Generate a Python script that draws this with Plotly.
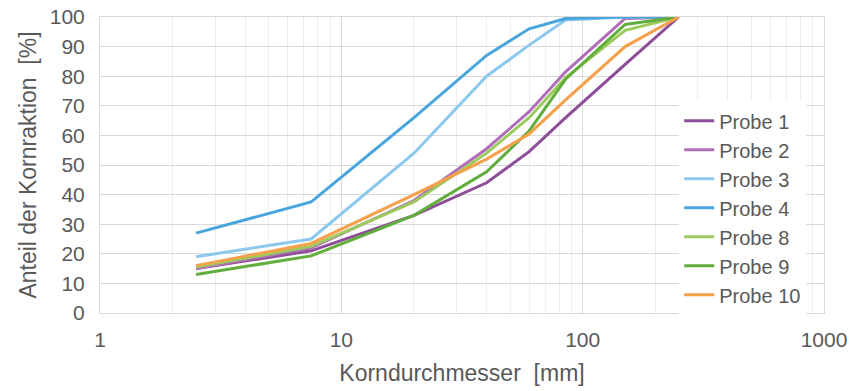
import plotly.graph_objects as go

# Sieve sizes (mm) and passing percentages per sample
diameters = [2.5, 7.5, 20, 40, 60, 85, 150, 250]

probe_1 = [15, 21, 33, 44, 54.5, 66, 84, 100]
probe_2 = [15, 22, 38, 55.5, 68, 81.5, 99.5, 100]
probe_3 = [19, 25, 54, 80, 90.5, 99, 100, 100]
probe_4 = [27, 37.5, 66, 87, 96, 99.5, 100, 100]
probe_8 = [15.5, 22.5, 37.5, 54, 66, 79.5, 95.5, 100]
probe_9 = [13, 19.3, 33, 47.7, 61.5, 79, 97.5, 100]
probe_10 = [16, 23.5, 40, 52, 60.5, 72, 90, 100]

series_names = ["Probe 1", "Probe 2", "Probe 3", "Probe 4", "Probe 8", "Probe 9", "Probe 10"]
series_values = [probe_1, probe_2, probe_3, probe_4, probe_8, probe_9, probe_10]
series_colors = ["#8E4D98", "#B06DB8", "#8CC8EE", "#49A5DD", "#9BCB5C", "#62AE3D", "#F5A04A"]

x_tick_values = [1, 10, 100, 1000]
x_tick_labels = ["1", "10", "100", "1000"]

text_color = "#595959"
font_family = "Liberation Sans, Arial, sans-serif"

fig = go.Figure()
for name, values, color in zip(series_names, series_values, series_colors):
    fig.add_trace(go.Scatter(
        x=diameters, y=values, name=name, mode="lines",
        line=dict(color=color, width=3),
    ))

fig.update_layout(
    width=853, height=391,
    margin=dict(l=100, r=29, t=17, b=78),
    paper_bgcolor="white", plot_bgcolor="white",
    font=dict(family=font_family, color=text_color, size=20),
    legend=dict(
        x=0.80, y=0.715, xanchor="left", yanchor="top",
        bgcolor="white", borderwidth=0,
        font=dict(size=20, color=text_color),
        tracegroupgap=0,
    ),
)

fig.update_xaxes(
    type="log", range=[0, 3], automargin=False,
    tickvals=x_tick_values, ticktext=x_tick_labels,
    showgrid=True, gridcolor="#D9D9D9", gridwidth=1,
    minor=dict(dtick="D1", showgrid=True, gridcolor="#EEEEEE", gridwidth=1),
    showline=True, linecolor="#D9D9D9", linewidth=1, mirror=True,
    ticks="", ticklabelstandoff=8,
    tickfont=dict(size=21, color=text_color),
    title=dict(text="Korndurchmesser \u00a0[mm]", font=dict(size=23, color=text_color), standoff=14),
    zeroline=False,
)

fig.update_yaxes(
    range=[0, 100], dtick=10, automargin=False,
    showgrid=True, gridcolor="#D9D9D9", gridwidth=1,
    showline=True, linecolor="#D9D9D9", linewidth=1, mirror=True,
    ticks="", ticklabelstandoff=10,
    tickfont=dict(size=21, color=text_color),
    title=dict(text="Anteil der Kornraktion \u00a0[%]", font=dict(size=23, color=text_color), standoff=6),
    zeroline=False,
)

fig.write_html("out.html")
